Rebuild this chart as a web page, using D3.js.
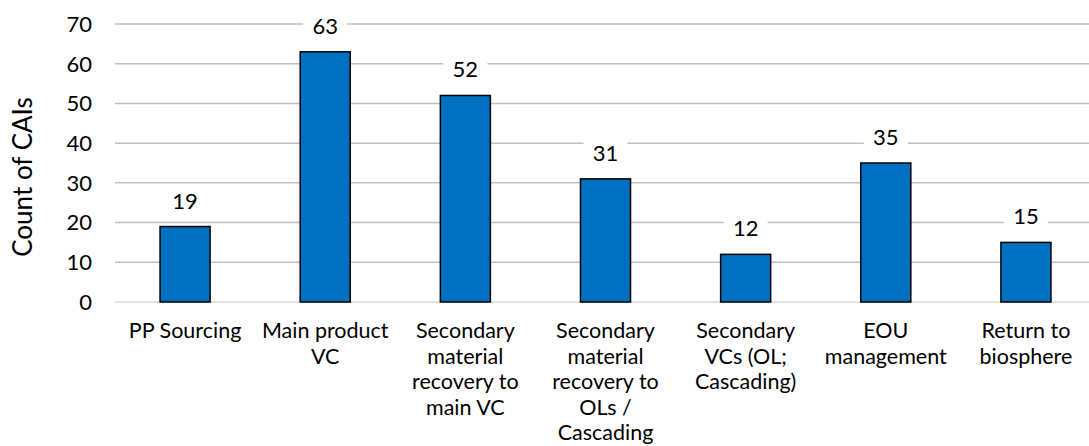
<!DOCTYPE html>
<meta charset="utf-8">
<style>
body { margin: 0; background: #fff; }
svg text { font-family: Lato, "Open Sans", sans-serif; fill: #000; }
.grid line { stroke: #bfbfbf; stroke-width: 1.5px; }
.bar { fill: #0070c0; stroke: #000; stroke-width: 1.5px; }
</style>
<svg width="1089" height="446"></svg>
<script src="https://cdn.jsdelivr.net/npm/d3@7"></script>
<script>

var categories = ["PP Sourcing", "Main product VC", "Secondary material recovery to main VC",
    "Secondary material recovery to OLs / Cascading", "Secondary VCs (OL; Cascading)",
    "EOU management", "Return to biosphere"];
var counts = [19, 63, 52, 31, 12, 35, 15];
var yTicks = [0, 10, 20, 30, 40, 50, 60, 70];

var svg = d3.select("svg"),
    plotLeft = 115, plotRight = 1096, plotTop = 24, plotBottom = 302;

var x = d3.scaleBand()
    .domain(categories)
    .range([plotLeft, plotRight])
    .paddingInner(0.643)
    .paddingOuter(0.3215);

var y = d3.scaleLinear()
    .domain([0, 70])
    .range([plotBottom, plotTop]);

// gridlines
svg.append("g")
    .attr("class", "grid")
  .selectAll("line")
  .data(yTicks)
  .enter().append("line")
    .attr("x1", plotLeft)
    .attr("x2", plotRight)
    .attr("y1", function(d) { return y(d); })
    .attr("y2", function(d) { return y(d); })
    .style("stroke", function(d) { return d === 0 ? "#d9d9d9" : null; });

// y tick labels
svg.append("g")
  .selectAll("text")
  .data(yTicks)
  .enter().append("text")
    .attr("x", 92)
    .attr("y", function(d) { return y(d); })
    .attr("dy", "0.36em")
    .attr("text-anchor", "end")
    .style("font-size", "22px")
    .text(function(d) { return d; });

svg.append("text")
    .attr("transform", "translate(32,177)rotate(-90)")
    .attr("text-anchor", "middle")
    .style("font-size", "26px")
    .text("Count of CAIs");

// bars
svg.append("g")
  .selectAll("rect")
  .data(counts)
  .enter().append("rect")
    .attr("class", "bar")
    .attr("x", function(d, i) { return x(categories[i]); })
    .attr("width", x.bandwidth())
    .attr("y", function(d) { return y(d); })
    .attr("height", function(d) { return y(0) - y(d); });

// data labels with white box
var lab = svg.append("g")
  .selectAll("g")
  .data(counts)
  .enter().append("g")
    .attr("transform", function(d, i) {
      return "translate(" + (x(categories[i]) + x.bandwidth() / 2) + "," + (y(d) - 18) + ")";
    });

lab.append("rect")
    .attr("x", -22)
    .attr("y", -21)
    .attr("width", 44)
    .attr("height", 27)
    .style("fill", "#fff");

lab.append("text")
    .attr("text-anchor", "middle")
    .style("font-size", "22px")
    .text(function(d) { return d; });

// category labels
svg.append("g")
  .selectAll("text")
  .data(categories)
  .enter().append("text")
    .attr("x", function(d) { return x(d) + x.bandwidth() / 2; })
    .attr("y", 338)
    .attr("text-anchor", "middle")
    .style("font-size", "21.5px")
    .text(function(d) { return d; })
    .call(wrap, 136);

function wrap(text, width) {
  text.each(function() {
    var t = d3.select(this),
        words = t.text().split(/\s+/),
        cx = t.attr("x"),
        line = [],
        tspan = t.text(null).append("tspan").attr("x", cx).attr("dy", 0);
    words.forEach(function(w) {
      line.push(w);
      tspan.text(line.join(" "));
      if (tspan.node().getComputedTextLength() > width && line.length > 1) {
        line.pop();
        tspan.text(line.join(" "));
        line = [w];
        tspan = t.append("tspan").attr("x", cx).attr("dy", "25.5px").text(w);
      }
    });
  });
}

</script>
